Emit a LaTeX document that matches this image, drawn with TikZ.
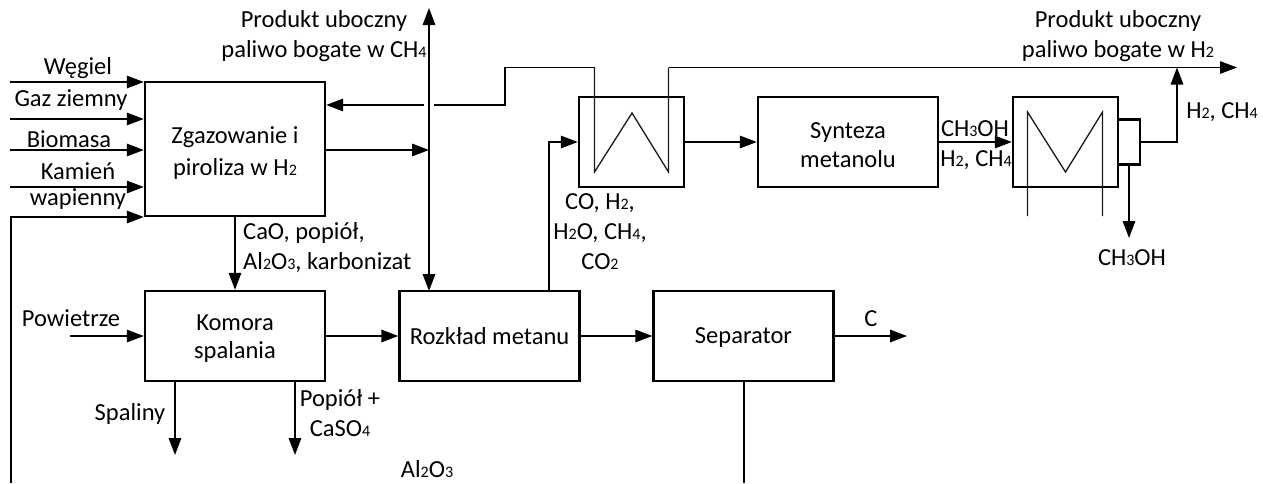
\documentclass[tikz,border=0pt]{standalone}
\usepackage{fontspec}
\setmainfont{Carlito}
\usetikzlibrary{arrows.meta}
\newcommand{\sbs}[1]{{\fontsize{16}{16}\selectfont #1}}
\tikzset{
  boxn/.style={draw=black,line width=2.4pt,inner sep=0pt,align=center,minimum width=#1},
  boxn/.default=180pt,
  conn/.style={line width=1.5pt,line join=miter},
  arr/.style={conn,-{Triangle[length=17pt,width=12.5pt]}},
  arrb/.style={conn,{Triangle[length=17pt,width=12.5pt]}-{Triangle[length=17pt,width=12.5pt]}},
  thinl/.style={line width=1.3pt,black!90,line join=miter},
  lab/.style={inner sep=0pt,align=center}
}
\begin{document}
\begin{tikzpicture}[x=1pt,y=-1pt,font=\fontsize{24.5}{30}\selectfont]
\useasboundingbox (0,0) rectangle (1263,483);
% process boxes
\node[boxn,minimum height=134pt] (gaz) at (235,149) {\rule{0pt}{24pt}Zgazowanie i\\[2pt]piroliza w H\sbs{2}};
\node[boxn,minimum height=90pt] (kom) at (235,336) {\rule{0pt}{21pt}Komora\\[-2pt]spalania};
\node[boxn,minimum height=90pt] (roz) at (489.5,336) {Rozkład metanu};
\node[boxn,minimum height=90pt,text depth=0pt] (sep) at (743.5,336) {Separator};
\node[boxn=105pt,minimum height=90pt] (hxa) at (631.5,142) {};
\node[boxn,minimum height=90pt] (syn) at (848,142) {\rule{0pt}{22pt}Synteza\\[-1pt]metanolu};
\node[boxn=105pt,minimum height=90pt] (hxb) at (1065.5,142) {};
\node[boxn=22pt,minimum height=45pt] (sm) at (1129,142) {};
% free ends
\coordinate (w1) at (10,82);
\coordinate (w2) at (10,119);
\coordinate (w3) at (10,150);
\coordinate (w4) at (10,187);
\coordinate (w5) at (11,217);
\coordinate (w5b) at (11,483);
\coordinate (vt) at (429,8);
\coordinate (vb) at (429,291);
\coordinate (j1) at (429,150);
\coordinate (gapr) at (434,105);
\coordinate (gapl) at (424,105);
\coordinate (st1) at (505,105);
\coordinate (st2) at (505,67.5);
\coordinate (za) at (594.5,67.5);
\coordinate (zb) at (594.5,172);
\coordinate (zc) at (632,113);
\coordinate (zd) at (668.5,172);
\coordinate (ze) at (668.5,67.5);
\coordinate (out) at (1237,67.5);
\coordinate (yb) at (1027.5,216);
\coordinate (yc) at (1027.5,112);
\coordinate (yd) at (1065.5,172);
\coordinate (ye) at (1102.5,112);
\coordinate (yf) at (1102.5,216);
\coordinate (up) at (1177,142);
\coordinate (upt) at (1177,67.5);
\coordinate (dn) at (1129,238);
\coordinate (air) at (70,336);
\coordinate (cout) at (907,336);
\coordinate (spa) at (175,455);
\coordinate (pop) at (295,455);
\coordinate (sepb) at (744,483);
\coordinate (ru) at (549,142);
% inputs
\draw[arr] (w1) -- (w1 -| gaz.west);
\draw[arr] (w2) -- (w2 -| gaz.west);
\draw[arr] (w3) -- (w3 -| gaz.west);
\draw[arr] (w4) -- (w4 -| gaz.west);
\draw[arr] (w5b) -- (w5) -- (w5 -| gaz.west);
% CH4 by-product line
\draw[arrb] (vt) -- (vb);
\draw[arr] (j1 -| gaz.east) -- (j1);
\draw[arr] (gapl) -- (gapl -| gaz.east);
\draw[conn] (gapr) -- (st1) -- (st2) -- (za);
\draw[thinl] (za) -- (zb) -- (zc) -- (zd) -- (ze);
\draw[arr,line width=1.3pt] (ze) -- (out);
% gasifier to combustion
\draw[arr] (gaz.south) -- (kom.north);
% main row
\draw[arr] (air) -- (kom.west);
\draw[arr] (kom.east) -- (roz.west);
\draw[arr] (roz.east) -- (sep.west);
\draw[arr] (sep.east) -- (cout);
\draw[arr] (spa |- kom.south) -- (spa);
\draw[arr] (pop |- kom.south) -- (pop);
\draw[conn] (sepb |- sep.south) -- (sepb);
% upper row
\draw[arr] (ru |- roz.north) -- (ru) -- (hxa.west);
\draw[arr] (hxa.east) -- (syn.west);
\draw[arr] (syn.east) -- (hxb.west);
\draw[thinl] (yb) -- (yc) -- (yd) -- (ye) -- (yf);
\draw[arr] (sm.east) -- (up) -- (upt);
\draw[arr] (sm.south) -- (dn);
% labels
\node[lab] (l1) at (78,68) {Węgiel};
\node[lab] (l2) at (71,100) {Gaz ziemny};
\node[lab] (l3) at (69,139) {Biomasa};
\node[lab] (l4) at (78,171) {Kamień};
\node[lab] (l5) at (78,199) {wapienny};
\node[lab] (l6) at (324,36) {Produkt uboczny\\paliwo bogate w CH\sbs{4}};
\node[lab] (l7) at (1118,36) {Produkt uboczny\\paliwo bogate w H\sbs{2}};
\node[lab] (l8) at (1222,112) {H\sbs{2}, CH\sbs{4}};
\node[lab] (l9) at (975,129) {CH\sbs{3}OH};
\node[lab] (l10) at (976,160) {H\sbs{2}, CH\sbs{4}};
\node[lab] (l11) at (1132,258) {CH\sbs{3}OH};
\node[lab] (l12) at (600,232) {CO, H\sbs{2},\\H\sbs{2}O, CH\sbs{4},\\CO\sbs{2}};
\node[lab,align=left,anchor=west] (l13) at (243,248) {CaO, popiół,\\Al\sbs{2}O\sbs{3}, karbonizat};
\node[lab] (l14) at (71,318) {Powietrze};
\node[lab] (l15) at (130,414) {Spaliny};
\node[lab] (l16) at (340,413) {Popiół +\\CaSO\sbs{4}};
\node[lab] (l17) at (427,469) {Al\sbs{2}O\sbs{3}};
\node[lab] (l18) at (871,319) {C};
\end{tikzpicture}
\end{document}
